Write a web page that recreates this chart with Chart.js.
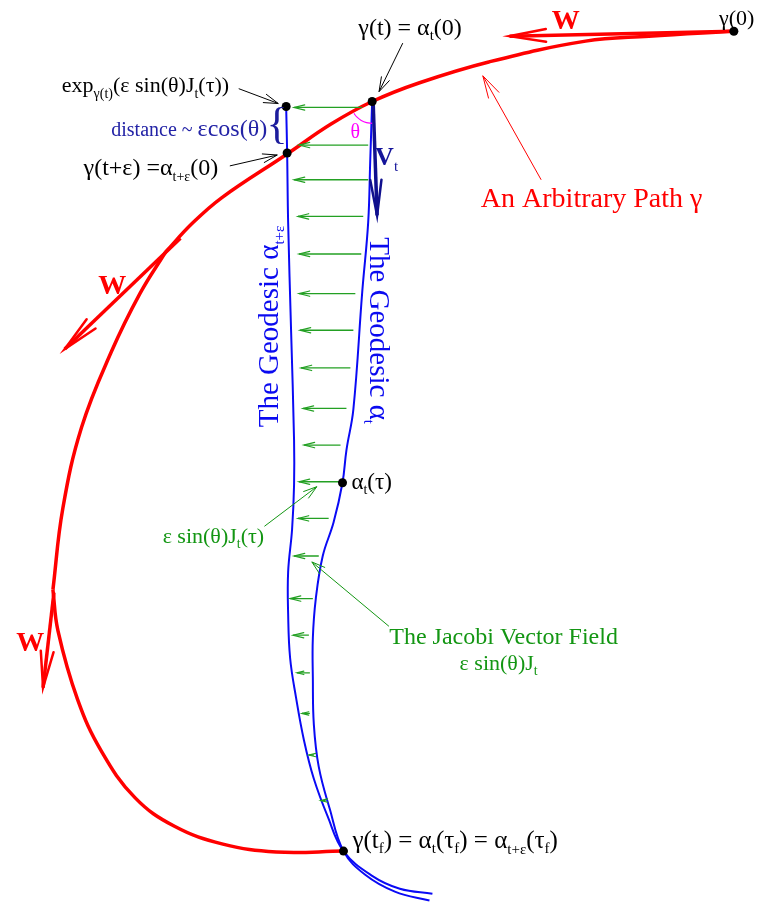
<!DOCTYPE html>
<html>
<head>
<meta charset="utf-8">
<script src="https://cdn.jsdelivr.net/npm/chart.js@4"></script>
<style>
  html, body { margin: 0; padding: 0; background: #fff; }
  canvas { display: block; }
</style>
</head>
<body>
<canvas id="chart" width="768" height="912"></canvas>
<script>
// the path gamma, split at its two kinks (x, y in picture units, y grows downwards)
const pathTop = [[738, 27], [652, 32], [588, 37], [490, 58], [420, 79], [372, 98], [330, 121], [286, 151], [220, 195], [190, 221], [163, 250]];
const pathMid = [[163, 250], [137, 292], [108, 351], [78, 427], [59, 509], [49, 591]];
const pathLow = [[49, 591], [54, 632], [74, 702], [98, 754], [132, 801], [172, 830], [221, 848], [275, 856], [343, 855]];

// the two geodesics
const geodesicT = [[372, 98], [370, 160], [368, 220], [362, 290], [353, 409], [346, 450], [342, 483], [333, 523], [322, 557], [315, 600], [312, 640], [312, 680], [313, 727], [318, 770], [329, 812], [343, 855], [365, 879], [395, 896], [430, 905]];
const geodesicTe = [[285, 103], [286, 150], [287, 220], [290, 330], [293, 440], [293, 485], [291, 530], [287, 573], [287, 615], [289, 660], [295, 700], [303, 743], [313, 782], [327, 820], [343, 855], [372, 880], [400, 893], [433, 898]];

// jacobi field arrows: height, start on alpha_t, tip near alpha_t+e
const jacobiY = [104, 142, 177, 214, 252, 292, 329, 367, 408, 445, 482, 519, 557, 600, 637, 675, 716, 758, 804];
const jacobiFrom = [362, 368, 368, 363, 361, 355, 353, 350, 346, 340, 342, 328, 318, 312, 308, 309, 309, 313, 325];
const jacobiTo = [293, 298, 293, 297, 298, 298, 299, 300, 302, 303, 298, 297, 293, 289, 292, 296, 301, 308, 320];

// arrows as [x1, y1, x2, y2], tip at the end
const wArrows = [[738, 27, 511, 32], [178, 236, 61, 348], [50, 594, 39, 690]];
const vArrow = [[373, 98, 377, 213]];
const blackPointers = [[403, 39, 379, 88], [237, 85, 277, 100], [228, 163, 276, 152]];
const redPointers = [[543, 177, 484, 72]];
const greenPointers = [[263, 527, 316, 487], [389, 628, 311, 563]];

const dots = [[738, 27], [372, 98], [285, 103], [286, 150], [342, 483], [343, 855]];

// angle theta at gamma(t)
const thetaCenter = [372, 98];
const thetaRadius = 22;
const thetaAngles = [90, 105, 120, 135, 147];

const serif = '"Liberation Serif", "Times New Roman", serif';

const labels = [
    { x: 723, y: 21, color: '#000', parts: [['γ(0)', 22]] },
    { x: 358, y: 31, color: '#000', parts: [['γ(t) = α', 24], ['t', 15, 5], ['(0)', 24]] },
    { x: 58, y: 88, color: '#000', parts: [['exp', 22], ['γ(t)', 14, 6], ['(ε sin(θ)J', 22], ['t', 14, 6], ['(τ))', 22]] },
    { x: 108, y: 133, color: '#2323a6', parts: [['distance ~ ', 20], ['εcos(θ)', 24]] },
    { x: 265, y: 135, color: '#1c1c9c', parts: [['{', 44]] },
    { x: 80, y: 172, color: '#000', parts: [['γ(t+ε) =α', 24], ['t+ε', 14, 6], ['(0)', 24]] },
    { x: 482, y: 205, color: '#ff0000', parts: [['An Arbitrary Path γ', 28]] },
    { x: 375, y: 162, color: '#14149a', parts: [['V', 26, 0, 'bold'], ['t', 15, 6]] },
    { x: 350, y: 135, color: '#ff00ff', parts: [['θ', 20]] },
    { x: 568, y: 25, color: '#ff0000', align: 'center', parts: [['W', 28, 0, 'bold']] },
    { x: 109, y: 292, color: '#ff0000', align: 'center', parts: [['W', 28, 0, 'bold']] },
    { x: 26, y: 653, color: '#ff0000', align: 'center', parts: [['W', 28, 0, 'bold']] },
    { x: 277, y: 427, color: '#0a0af0', rotate: -90, parts: [['The Geodesic α', 29], ['t+ε', 15, 6]] },
    { x: 370, y: 235, color: '#0a0af0', rotate: 90, parts: [['The Geodesic α', 29], ['t', 15, 6]] },
    { x: 351, y: 489, color: '#000', parts: [['α', 23], ['t', 14, 5], ['(τ)', 23]] },
    { x: 160, y: 544, color: '#139613', parts: [['ε sin(θ)J', 22], ['t', 14, 5], ['(τ)', 22]] },
    { x: 505, y: 646, color: '#139613', align: 'center', parts: [['The Jacobi Vector Field', 24]] },
    { x: 500, y: 672, color: '#139613', align: 'center', parts: [['ε sin(θ)J', 22], ['t', 14, 5]] },
    { x: 352, y: 852, color: '#000', parts: [['γ(t', 25], ['f', 15, 5], [') = α', 25], ['t', 15, 5], ['(τ', 25], ['f', 15, 5], [') = α', 25], ['t+ε', 15, 6], ['(τ', 25], ['f', 15, 5], [')', 25]] },
];

const toPoints = list => list.map(p => ({ x: p[0], y: p[1] }));

function curve(points, color, width) {
    return {
        data: toPoints(points),
        borderColor: color,
        borderWidth: width,
        tension: 0.4,
        pointRadius: 0,
        showLine: true,
    };
}

function arrow(a, color, width, head) {
    return {
        data: [{ x: a[0], y: a[1] }, { x: a[2], y: a[3] }],
        borderColor: color,
        borderWidth: width,
        pointRadius: 0,
        showLine: true,
        head: head,
    };
}

// bottom to top
const layers = [];
layers.push(curve(pathTop, '#ff0000', 3.5));
layers.push(curve(pathMid, '#ff0000', 3.5));
layers.push(curve(pathLow, '#ff0000', 3.5));
layers.push(curve(geodesicT, '#0a0af5', 2));
layers.push(curve(geodesicTe, '#0a0af5', 2));
jacobiY.forEach((y, i) => {
    layers.push(arrow([jacobiFrom[i], y, jacobiTo[i], y], '#23a023', 1.3, { len: i > 14 ? 7 : 11, angle: 14, width: 1.2 }));
});
wArrows.forEach(a => layers.push(arrow(a, '#ff0000', 3.5, { len: 37, angle: 10, width: 2.5 })));
vArrow.forEach(a => layers.push(arrow(a, '#10108e', 3.5, { len: 36, angle: 9, width: 2.5 })));
blackPointers.forEach(a => layers.push(arrow(a, '#000', 1, { len: 15, angle: 17, width: 1 })));
redPointers.forEach(a => layers.push(arrow(a, '#ff0000', 1, { len: 23, angle: 15, width: 1 })));
greenPointers.forEach(a => layers.push(arrow(a, '#139613', 1, { len: 14, angle: 17, width: 1 })));
layers.push(curve(thetaAngles.map(d => [
    thetaCenter[0] + thetaRadius * Math.cos(d * Math.PI / 180),
    thetaCenter[1] + thetaRadius * Math.sin(d * Math.PI / 180),
]), '#ff00ff', 1.2));
layers.push({
    data: toPoints(dots),
    pointRadius: 4.5,
    pointBackgroundColor: '#000',
    pointBorderWidth: 0,
    showLine: false,
});

const arrowHeads = {
    id: 'arrowHeads',
    afterDatasetsDraw(chart) {
        const ctx = chart.ctx;
        const xs = chart.scales.x;
        const ys = chart.scales.y;
        chart.data.datasets.forEach(ds => {
            if (!ds.head) return;
            const n = ds.data.length;
            const x1 = xs.getPixelForValue(ds.data[n - 2].x);
            const y1 = ys.getPixelForValue(ds.data[n - 2].y);
            const x2 = xs.getPixelForValue(ds.data[n - 1].x);
            const y2 = ys.getPixelForValue(ds.data[n - 1].y);
            const back = Math.atan2(y1 - y2, x1 - x2);
            const a = ds.head.angle * Math.PI / 180;
            ctx.save();
            ctx.strokeStyle = ds.borderColor;
            ctx.lineWidth = ds.head.width;
            ctx.lineCap = 'round';
            ctx.beginPath();
            ctx.moveTo(x2 + ds.head.len * Math.cos(back + a), y2 + ds.head.len * Math.sin(back + a));
            ctx.lineTo(x2, y2);
            ctx.lineTo(x2 + ds.head.len * Math.cos(back - a), y2 + ds.head.len * Math.sin(back - a));
            ctx.stroke();
            ctx.restore();
        });
    },
};

const texts = {
    id: 'texts',
    afterDraw(chart) {
        const ctx = chart.ctx;
        const xs = chart.scales.x;
        const ys = chart.scales.y;
        labels.forEach(l => {
            ctx.save();
            ctx.translate(xs.getPixelForValue(l.x), ys.getPixelForValue(l.y));
            if (l.rotate) ctx.rotate(l.rotate * Math.PI / 180);
            ctx.fillStyle = l.color;
            ctx.textBaseline = 'alphabetic';
            const font = p => (p[3] ? p[3] + ' ' : '') + p[1] + 'px ' + serif;
            let w = 0;
            l.parts.forEach(p => { ctx.font = font(p); w += ctx.measureText(p[0]).width; });
            let x = l.align === 'center' ? -w / 2 : 0;
            l.parts.forEach(p => {
                ctx.font = font(p);
                ctx.fillText(p[0], x, p[2] || 0);
                x += ctx.measureText(p[0]).width;
            });
            ctx.restore();
        });
    },
};

const config = {
    type: 'scatter',
    data: { datasets: layers.reverse() },
    options: {
        responsive: false,
        animation: false,
        layout: { padding: 0 },
        plugins: { legend: { display: false }, tooltip: { enabled: false } },
        scales: {
            x: { type: 'linear', min: 0, max: 768, display: false },
            y: { type: 'linear', min: 0, max: 912, reverse: true, display: false },
        },
    },
    plugins: [arrowHeads, texts],
};

const chart = new Chart(document.getElementById('chart'), config);
</script>
</body>
</html>
